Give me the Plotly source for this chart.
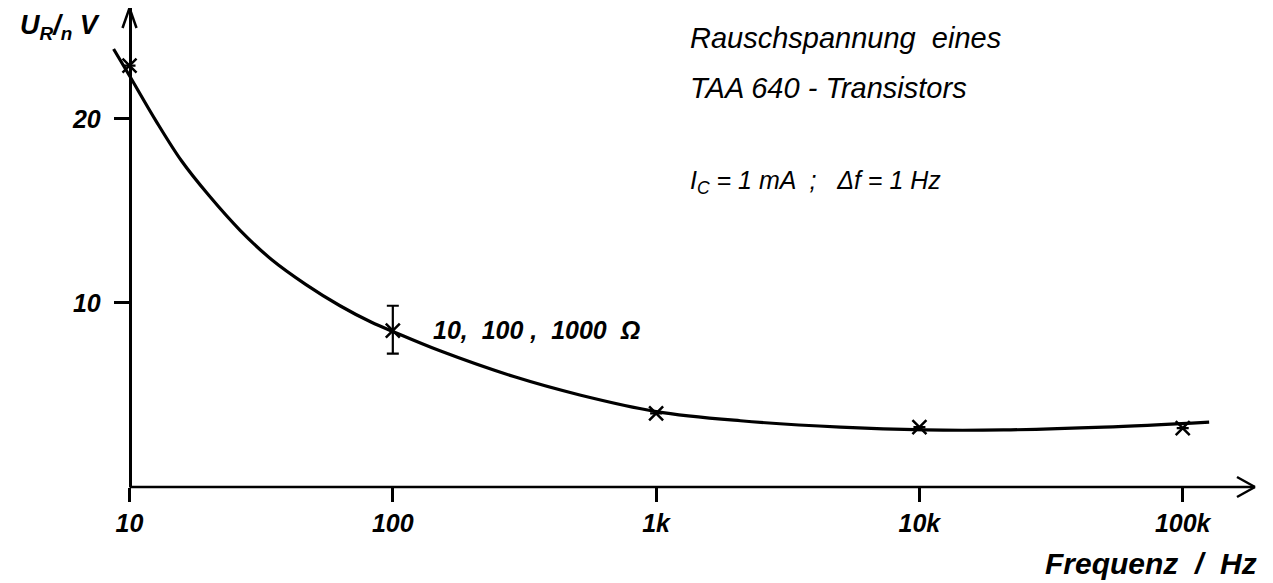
import math
import plotly.graph_objects as go

# ---- data ----
meas_f = [10, 100, 1000, 10000, 100000]
meas_u = [22.9, 8.5, 4.0, 3.25, 3.2]
err_plus = [0, 1.35, 0, 0, 0]
err_minus = [0, 1.25, 0, 0, 0]

curve_f = [8.7, 10, 12.6, 15.8, 20, 26.3, 34.7, 46.8, 63, 83, 100, 151, 288, 513,
           1000, 2090, 5010, 10500, 20900, 50100, 126000]
curve_u = [23.8, 22.35, 19.9, 17.7, 15.85, 13.95, 12.35, 11.0, 9.85, 8.95, 8.45, 7.4, 6.0, 5.0,
           4.1, 3.6, 3.25, 3.1, 3.1, 3.25, 3.53]

x_tickvals = [10, 100, 1000, 10000, 100000]
x_ticktext = ["10", "100", "1k", "10k", "100k"]
y_tickvals = [10, 20]
y_ticktext = ["10", "20"]

# ---- layout constants (figure pixels; page body adds an 8px offset) ----
W, H = 1265, 575
ML, MR, MT, MB = 96, 18, 0, 96
xr = [math.log10(8.0), 5.2745]
yr = [0, 26.03]
ypos = (1 - xr[0]) / (xr[1] - xr[0])   # paper position of f = 10 Hz

SANS = "Liberation Sans, Arial, sans-serif"
black = "#000000"

fig = go.Figure()
fig.add_trace(go.Scatter(
    x=curve_f, y=curve_u, mode="lines",
    line=dict(color=black, width=3.2, shape="spline", smoothing=1.0),
    hoverinfo="skip", showlegend=False))
fig.add_trace(go.Scatter(
    x=meas_f, y=meas_u, mode="markers",
    marker=dict(symbol="x-thin", size=14, line=dict(color=black, width=2.5), color=black),
    error_y=dict(type="data", symmetric=False, array=err_plus, arrayminus=err_minus,
                 color=black, thickness=2.2, width=6),
    cliponaxis=False, showlegend=False))

ax_font = dict(family=SANS, size=25, color=black, style="italic", weight="bold")

fig.update_layout(
    width=W, height=H,
    margin=dict(l=ML, r=MR, t=MT, b=MB, autoexpand=False),
    paper_bgcolor="white", plot_bgcolor="white",
    font=dict(family=SANS, color=black, style="italic"),
    xaxis=dict(type="log", range=xr, showgrid=False, zeroline=False, showline=False,
               tickmode="array", tickvals=x_tickvals, ticktext=x_ticktext,
               ticks="outside", ticklen=14, tickwidth=2.5, tickcolor=black,
               tickfont=ax_font, ticklabelstandoff=0),
    yaxis=dict(range=yr, showgrid=False, zeroline=False, showline=True,
               linecolor=black, linewidth=2.5, anchor="free", position=ypos,
               tickmode="array", tickvals=y_tickvals, ticktext=y_ticktext,
               ticks="outside", ticklen=15, tickwidth=2.5, tickcolor=black,
               tickfont=ax_font, ticklabelstandoff=8),
)

# x-axis line starting at the y-axis, and arrow heads
lw = 2.5
fig.add_shape(type="line", xref="paper", yref="paper", x0=ypos, x1=1, y0=0, y1=0,
              line=dict(color=black, width=lw))
for dy in (10, -10):
    fig.add_shape(type="line", xref="paper", yref="paper", xsizemode="pixel", ysizemode="pixel",
                  xanchor=1, yanchor=0, x0=0, y0=0, x1=-18, y1=dy,
                  line=dict(color=black, width=lw))
for dx in (7, -7):
    fig.add_shape(type="line", xref="paper", yref="paper", xsizemode="pixel", ysizemode="pixel",
                  xanchor=ypos, yanchor=1, x0=0, y0=0, x1=dx, y1=-20,
                  line=dict(color=black, width=lw))

def px2paper(px, py):
    # px, py given in screenshot coordinates
    px -= 8
    py -= 8
    pw = W - ML - MR
    ph = H - MT - MB
    return (px - ML) / pw, (H - MB - py) / ph

def note(text, px, py, size, weight="normal", anchor="left"):
    x, y = px2paper(px, py)
    fig.add_annotation(text=text, x=x, y=y, xref="paper", yref="paper",
                       xanchor=anchor, yanchor="middle", showarrow=False,
                       font=dict(family=SANS, size=size, color=black, style="italic",
                                 weight=weight))

note("U<sub>R</sub>/<sub>n</sub> V", 18, 27, 27, weight="bold")
note("Rauschspannung  eines", 688, 38, 29)
note("TAA 640 - Transistors", 688, 88, 29)
note("I<sub>C</sub> = 1 mA  ;   Δf = 1 Hz", 688, 182, 25)
note("10,  100 ,  1000  Ω", 431, 330, 25, weight="bold")
note("Frequenz  /  Hz", 1043, 563, 30, weight="bold")

fig.write_html("out.html")
